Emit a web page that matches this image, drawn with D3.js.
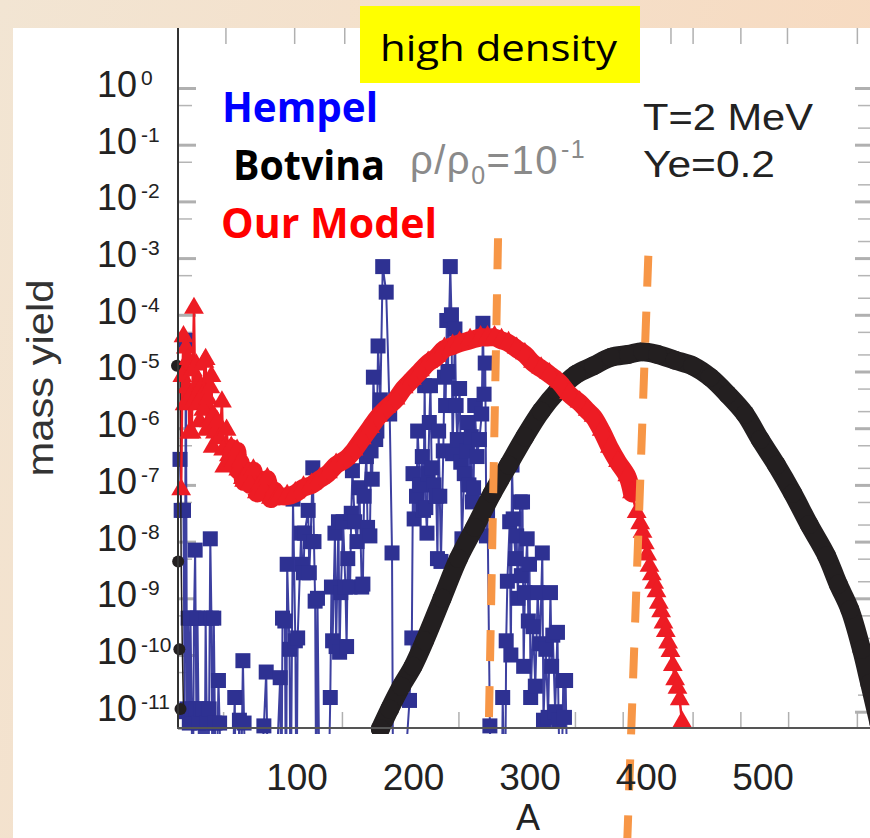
<!DOCTYPE html>
<html>
<head>
<meta charset="utf-8">
<script src="https://cdn.jsdelivr.net/npm/d3@7"></script>
<style>
  body { margin: 0; }
  svg { display: block; }
</style>
</head>
<body>
<svg></svg>
<script>
const width = 870;
const height = 838;

// Hempel (blue squares), values below the axis are drawn as lines into the floor
const hempelA = [0, 1, 3, 4, 5, 6, 7, 8, 9, 10, 11, 12, 13, 14, 15, 16, 17, 18, 19, 20,
  21, 22, 23, 24, 25, 26, 27, 28, 29, 30, 31, 33, 34, 36, 40, 44, 47, 48, 51, 52,
  54, 55, 57, 62, 67, 72, 74, 76, 81, 86, 87, 88, 90, 91, 92, 94, 95, 97, 99, 100,
  101, 104, 105, 106, 107, 110, 111, 112, 114, 115, 116, 117, 118, 120, 127, 129, 130, 131, 133, 134,
  136, 137, 138, 140, 142, 143, 144, 146, 147, 148, 150, 152, 154, 156, 157, 158, 160, 161, 163, 164,
  165, 166, 168, 169, 170, 172, 174, 177, 180, 182, 183, 190, 197, 199, 200, 201, 203, 204, 206, 208,
  209, 210, 211, 212, 213, 214, 215, 216, 218, 220, 221, 222, 223, 224, 226, 227, 228, 229, 230, 232,
  233, 234, 236, 237, 238, 240, 241, 242, 244, 246, 247, 248, 250, 251, 252, 253, 255, 257, 259, 260,
  261, 262, 263, 264, 266, 268, 276, 277, 279, 280, 281, 283, 284, 285, 286, 288, 289, 290, 292, 293,
  294, 295, 296, 298, 299, 300, 301, 303, 305, 307, 309, 311, 312, 314, 316, 318, 319, 320, 322, 324,
  325, 327, 329, 330, 331, 333];
const hempelYield = [2.82e-7, 3.55e-8, 3.55e-8, 1e-11, 3.55e-5, 1.12e-11, 4.47e-10, 6.31e-12, 4.47e-10, 1.12e-11, 1e-13, 4.47e-10, 7.08e-9, 1.12e-11, 4.47e-10, 6.31e-12, 1e-13, 1.12e-11, 1e-13, 1.12e-11,
  1e-13, 4.47e-10, 6.31e-12, 1e-13, 1.12e-11, 1.12e-8, 4.47e-10, 1e-13, 4.47e-10, 6.31e-12, 1e-13, 3.55e-11, 6.31e-12, 1e-13, 1e-13, 1e-13, 1.78e-11, 1e-13, 7.08e-12, 1e-13,
  7.94e-11, 6.31e-12, 1e-13, 1e-13, 1e-13, 5.62e-12, 5.01e-11, 1e-13, 1e-13, 3.98e-11, 1e-13, 4.47e-10, 3.98e-10, 1e-13, 3.98e-9, 1.26e-10, 1e-13, 5.62e-8, 1.78e-10, 1e-13,
  2e-10, 1.41e-8, 3.98e-9, 2.82e-9, 1.41e-8, 3.55e-8, 2.82e-9, 1e-8, 2e-7, 1e-8, 8.91e-10, 1e-13, 1e-9, 1e-13, 1e-13, 1.78e-11, 1.58e-9, 1.78e-10, 1.41e-8, 1.41e-10,
  2.24e-8, 1.12e-10, 1.26e-9, 2.24e-8, 1.58e-9, 1.41e-10, 5.01e-9, 1.58e-9, 3.16e-8, 1.78e-7, 2.24e-8, 1e-8, 8.91e-8, 1.58e-9, 1.78e-9, 6.31e-8, 3.16e-7, 1.78e-8, 1.26e-8, 3.98e-7,
  1.26e-7, 7.94e-6, 6.31e-7, 8.91e-7, 2.82e-5, 3.16e-6, 7.08e-4, 2.51e-4, 1.78e-6, 6.31e-9, 1e-13, 1e-13, 1.58e-11, 2e-10, 1.58e-7, 2.51e-8, 6.31e-8, 8.91e-7, 1e-7, 3.16e-7,
  3.55e-8, 5.62e-6, 3.98e-8, 1.41e-8, 1.58e-7, 1.26e-6, 5.62e-6, 2e-7, 1e-7, 6.31e-8, 5.01e-9, 8.91e-7, 6.31e-8, 4.47e-9, 3.98e-7, 7.94e-6, 2.51e-6, 7.94e-5, 1e-5, 7.08e-4,
  1e-4, 3.55e-7, 5.62e-5, 2.51e-6, 6.31e-7, 5.01e-6, 2.51e-7, 1.12e-8, 1.58e-7, 3.98e-7, 1.26e-6, 1e-7, 7.08e-7, 5.01e-8, 8.91e-8, 2.51e-6, 3.16e-7, 6.31e-7, 1.78e-6, 7.08e-5,
  3.98e-6, 1.41e-5, 1.26e-8, 3.16e-8, 5.62e-12, 1e-13, 1e-13, 1.78e-11, 1e-13, 1.78e-10, 2e-9, 2.24e-8, 1e-10, 2.24e-7, 2.51e-8, 5.01e-9, 1.26e-8, 1e-9, 5.01e-8, 2.51e-9,
  5.01e-8, 6.31e-11, 1.26e-9, 1.12e-8, 3.98e-10, 3.98e-9, 1.78e-11, 3.16e-10, 2.82e-11, 1.26e-9, 1.58e-10, 6.31e-9, 7.08e-12, 1.26e-10, 7.94e-12, 1.26e-9, 6.31e-11, 2.24e-10, 1e-11, 2.51e-10,
  7.08e-12, 1e-13, 3.55e-11, 7.94e-12, 3.55e-11, 1e-13];

// Botvina (black circles)
const botvinaA = [172, 180, 190, 200, 210, 225, 239, 253, 268, 282, 296, 310, 324, 340, 355, 370, 385,
  397, 410, 425, 440, 455, 470, 485, 498, 512, 526, 540, 555, 565, 575, 585, 592, 600];
const botvinaYield = [5.01e-12, 1.12e-11, 2.82e-11, 6.31e-11, 1.78e-10, 1e-9, 5.01e-9, 1.78e-8, 7.08e-8, 2.24e-7, 7.08e-7, 2e-6, 4.47e-6, 8.91e-6, 1.26e-5, 1.78e-5, 2e-5,
  2.24e-5, 2e-5, 1.58e-5, 1.26e-5, 7.94e-6, 3.98e-6, 1.78e-6, 6.31e-7, 2.24e-7, 7.08e-8, 2e-8, 5.62e-9, 1.78e-9, 6.31e-10, 1.26e-10, 3.16e-11, 6.31e-12];
const botvinaLightA = [0, 1, 2, 3];
const botvinaLightYield = [1.26e-5, 4.47e-9, 1.26e-10, 1.12e-11];

// Our Model (red triangles)
const modelA = [1, 2, 3, 4, 5, 6, 7, 8, 9, 10, 11, 12, 13, 14, 15, 16, 17, 18, 19, 20,
  21, 22, 23, 24, 25, 26, 27, 28, 29, 30, 32, 34, 36, 37, 38, 40, 42, 44, 46, 49,
  50, 52, 54, 55, 58, 60, 63, 66, 69, 72, 75, 78, 81, 84, 86, 92, 99, 106, 113, 120,
  127, 134, 142, 149, 156, 163, 170, 177, 185, 192, 199, 206, 213, 220, 227, 234, 240, 249, 258, 264,
  270, 276, 282, 289, 296, 303, 310, 317, 326, 334, 343, 350, 355, 362, 369, 376, 384, 388, 392, 395,
  397, 399, 401, 403, 405, 407, 409, 411, 413, 415, 417, 419, 421, 423, 425, 427, 429, 431];
const modelYield = [7.94e-8, 7.94e-6, 3.98e-5, 2.51e-6, 2.51e-5, 5.01e-6, 1.58e-5, 7.94e-7, 3.55e-6, 7.94e-7, 1e-5, 1.26e-4, 3.16e-6, 1.26e-5, 2.51e-6, 6.31e-6, 1.26e-6, 5.01e-6, 3.55e-6, 2e-6,
  1.41e-5, 1.58e-5, 8.91e-7, 3.16e-6, 1.26e-6, 5.01e-6, 7.94e-6, 4.47e-7, 1.58e-6, 7.94e-7, 1.26e-6, 6.31e-7, 2.82e-6, 3.98e-7, 2e-7, 8.91e-7, 3.16e-7, 4.47e-7, 2.51e-7, 3.98e-7,
  1.78e-7, 2.51e-7, 1.26e-7, 1.12e-7, 1.58e-7, 1e-7, 1.78e-7, 7.08e-8, 1e-7, 7.94e-8, 1.26e-7, 5.62e-8, 7.94e-8, 6.31e-8, 6.31e-8, 6.31e-8, 7.08e-8, 8.91e-8, 1e-7, 1.26e-7,
  1.58e-7, 2.24e-7, 2.82e-7, 3.98e-7, 6.31e-7, 1e-6, 1.58e-6, 2.24e-6, 3.16e-6, 5.01e-6, 7.08e-6, 1e-5, 1.41e-5, 1.78e-5, 2.51e-5, 2.82e-5, 3.16e-5, 3.55e-5, 3.98e-5, 3.98e-5,
  3.98e-5, 3.55e-5, 3.16e-5, 2.51e-5, 2e-5, 1.41e-5, 1.12e-5, 8.91e-6, 6.31e-6, 3.98e-6, 2.82e-6, 2e-6, 1.58e-6, 8.91e-7, 4.47e-7, 2.51e-7, 1.41e-7, 7.08e-8, 3.16e-8, 2e-8,
  1.41e-8, 8.91e-9, 5.62e-9, 3.55e-9, 2.51e-9, 1.78e-9, 1.26e-9, 7.94e-10, 5.62e-10, 3.55e-10, 2.51e-10, 1.58e-10, 1.12e-10, 6.31e-11, 3.55e-11, 2.51e-11, 1.58e-11, 6.31e-12];

// orange dashed guide lines: [top, bottom]
const guideA = [[273, 265], [402, 384]];
const guideYield = [[2.24e-3, 4.57e-12], [1.1e-3, 5.9e-14]];

// axes
const yMajor = [1, 1e-1, 1e-2, 1e-3, 1e-4, 1e-5, 1e-6, 1e-7, 1e-8, 1e-9, 1e-10, 1e-11];
const yExpLabels = ["0", "-1", "-2", "-3", "-4", "-5", "-6", "-7", "-8", "-9", "-10", "-11"];
const yMinorLeft = [5e-1, 5e-2, 5e-3, 5e-4, 5e-5, 5e-6, 5e-7, 5e-8, 5e-9, 5e-10, 5e-11, 5e-12];
const yMinorRight = [2e-1, 5e-1, 2e-2, 5e-2, 2e-3, 5e-3, 2e-4, 5e-4, 2e-5, 5e-5, 2e-6, 5e-6,
  2e-7, 5e-7, 2e-8, 5e-8, 2e-9, 5e-9, 2e-10, 5e-10, 2e-11, 5e-11];
const xLabels = [100, 200, 300, 400, 500];
const bottomTickA = [37, 139, 239, 339, 380, 440, 481, 522, 581];
const topTickA = [39, 98, 141, 421, 440, 481, 521, 581];

let svg = d3.select("svg")
    .attr("width", width)
    .attr("height", height);

// фон слайда
let defs = svg.append("defs");
let grad = defs.append("linearGradient").attr("id", "bg")
    .attr("x1", 0).attr("y1", 0).attr("x2", 1).attr("y2", 0.3);
grad.append("stop").attr("offset", "0%").attr("stop-color", "#f2e5d3");
grad.append("stop").attr("offset", "100%").attr("stop-color", "#f7dac0");
svg.append("rect").attr("width", width).attr("height", height).attr("fill", "url(#bg)");
svg.append("rect").attr("x", 13).attr("y", 28)
    .attr("width", width - 13).attr("height", height - 28)
    .attr("fill", "#ffffff");

defs.append("clipPath").attr("id", "plotClip")
    .append("rect").attr("x", 168).attr("y", 28).attr("width", 702).attr("height", 706);

const x = d3.scaleLinear().domain([0, 600]).range([180, 879]);
const y = d3.scaleLog().domain([5.16e-12, 11.43]).range([728, 28]);

// ticks
function styleTicks(g, color, w) {
    g.select(".domain").remove();
    g.selectAll("line").attr("stroke", color).attr("stroke-width", w);
    g.selectAll("text").remove();
}
svg.append("g").attr("transform", "translate(178,0)")
    .call(d3.axisRight(y).tickValues(yMinorLeft).tickSize(14))
    .call(g => styleTicks(g, "#b5b5b5", 1.5));
svg.append("g").attr("transform", "translate(178,0)")
    .call(d3.axisRight(y).tickValues(yMajor).tickSize(18))
    .call(g => styleTicks(g, "#b0b0b0", 3));
svg.append("g").attr("transform", "translate(870,0)")
    .call(d3.axisLeft(y).tickValues(yMinorRight).tickSize(12))
    .call(g => styleTicks(g, "#b5b5b5", 1.5));
svg.append("g").attr("transform", "translate(870,0)")
    .call(d3.axisLeft(y).tickValues(yMajor).tickSize(15))
    .call(g => styleTicks(g, "#b0b0b0", 3));
svg.append("g").attr("transform", "translate(0,728)")
    .call(d3.axisTop(x).tickValues(bottomTickA).tickSize(16))
    .call(g => styleTicks(g, "#b0b0b0", 1.5));
svg.append("g").attr("transform", "translate(0,28)")
    .call(d3.axisBottom(x).tickValues(topTickA).tickSize(16))
    .call(g => styleTicks(g, "#b0b0b0", 1.5));

// data
let plot = svg.append("g").attr("clip-path", "url(#plotClip)");
const line = d3.line().x(d => x(d.a)).y(d => y(d.v));
const smooth = d3.line().x(d => x(d.a)).y(d => y(d.v)).curve(d3.curveCatmullRom);

const hempel = hempelA.map((a, i) => ({a: a, v: hempelYield[i]}));
plot.append("path").datum(hempel)
    .attr("d", line)
    .attr("fill", "none")
    .attr("stroke", "#3d40a0")
    .attr("stroke-width", 2);
plot.selectAll("rect.hempel")
    .data(hempel.filter(d => d.v > 1e-12))
    .join("rect")
    .attr("class", "hempel")
    .attr("x", d => x(d.a) - 7.5)
    .attr("y", d => y(d.v) - 7.5)
    .attr("width", 15)
    .attr("height", 15)
    .attr("fill", "#2e3192");

const botvina = botvinaA.map((a, i) => ({a: a, v: botvinaYield[i]}));
const botvinaLight = botvinaLightA.map((a, i) => ({a: a, v: botvinaLightYield[i]}));
plot.append("path").datum(botvina)
    .attr("d", smooth)
    .attr("fill", "none")
    .attr("stroke", "#231f20")
    .attr("stroke-width", 19)
    .attr("stroke-linecap", "round");
plot.selectAll("circle.botvina")
    .data(botvina)
    .join("circle")
    .attr("class", "botvina")
    .attr("cx", d => x(d.a))
    .attr("cy", d => y(d.v))
    .attr("r", 9.5)
    .attr("fill", "#231f20");
plot.append("path").datum(botvinaLight)
    .attr("d", line)
    .attr("fill", "none")
    .attr("stroke", "#231f20")
    .attr("stroke-width", 1.5);
plot.selectAll("circle.light")
    .data(botvinaLight)
    .join("circle")
    .attr("class", "light")
    .attr("cx", d => x(d.a) - 3)
    .attr("cy", d => y(d.v))
    .attr("r", 6)
    .attr("fill", "#231f20");

const model = modelA.map((a, i) => ({a: a, v: modelYield[i]}));
plot.append("path").datum(model)
    .attr("d", line)
    .attr("fill", "none")
    .attr("stroke", "#ed1c24")
    .attr("stroke-width", 2.5);
plot.append("path").datum(model.filter(d => d.a >= 44 && d.a <= 390))
    .attr("d", smooth)
    .attr("fill", "none")
    .attr("stroke", "#ed1c24")
    .attr("stroke-width", 18)
    .attr("stroke-linecap", "round");
plot.selectAll("path.model")
    .data(model)
    .join("path")
    .attr("class", "model")
    .attr("transform", d => `translate(${x(d.a)},${y(d.v) - 1})`)
    .attr("d", d3.symbol(d3.symbolTriangle).size(170))
    .attr("fill", "#ed1c24");

// orange dashed lines
guideA.forEach((g, i) => {
    svg.append("line")
        .attr("x1", x(g[0])).attr("y1", y(guideYield[i][0]))
        .attr("x2", x(g[1])).attr("y2", y(guideYield[i][1]))
        .attr("stroke", "#f79646")
        .attr("stroke-width", 8)
        .attr("stroke-dasharray", "31,25");
});

// axis lines
svg.append("line").attr("x1", 178).attr("x2", 178).attr("y1", 28).attr("y2", 729)
    .attr("stroke", "#333").attr("stroke-width", 2);
svg.append("line").attr("x1", 177).attr("x2", 870).attr("y1", 728).attr("y2", 728)
    .attr("stroke", "#555").attr("stroke-width", 2);

// tick labels
const font = "'Liberation Sans', Arial, sans-serif";
yMajor.forEach((v, i) => {
    let t = svg.append("text")
        .attr("x", 97)
        .attr("y", y(v) + 9)
        .attr("font-family", font)
        .attr("font-size", 36)
        .attr("fill", "#222");
    t.append("tspan").text("10");
    t.append("tspan").attr("dx", 4).attr("dy", -12).attr("font-size", 21).text(yExpLabels[i]);
});

svg.append("g").attr("transform", "translate(0,728)")
    .call(d3.axisBottom(x).tickValues(xLabels).tickSize(0).tickPadding(36))
    .call(g => g.select(".domain").remove())
    .call(g => g.selectAll("text")
        .attr("font-family", font)
        .attr("font-size", 37)
        .attr("fill", "#222"));

svg.append("text")
    .attr("x", 528).attr("y", 830)
    .attr("text-anchor", "middle")
    .attr("font-family", font)
    .attr("font-size", 36)
    .attr("fill", "#222")
    .text("A");

svg.append("text")
    .attr("transform", "translate(53,378) rotate(-90)")
    .attr("text-anchor", "middle")
    .attr("font-family", font)
    .attr("font-size", 36)
    .attr("fill", "#333")
    .attr("textLength", 197)
    .attr("lengthAdjust", "spacingAndGlyphs")
    .text("mass yield");

// title box
svg.append("rect").attr("x", 360).attr("y", 6).attr("width", 280).attr("height", 77)
    .attr("fill", "#ffff00");
svg.append("text")
    .attr("x", 380).attr("y", 61)
    .attr("font-family", "'Open Sans', 'Noto Sans', sans-serif")
    .attr("font-size", 37)
    .attr("fill", "#000")
    .attr("textLength", 237)
    .attr("lengthAdjust", "spacingAndGlyphs")
    .text("high density");

// legend labels
const legendFont = "'Open Sans', 'Noto Sans', sans-serif";
[["Hempel", "#0000ff", 222, 122, 156], ["Botvina", "#000000", 233, 180, 152], ["Our Model", "#ff0000", 221, 238, 216]]
    .forEach(d => {
        svg.append("text")
            .attr("x", d[2]).attr("y", d[3])
            .attr("font-family", legendFont)
            .attr("font-weight", 700)
            .attr("font-size", 41)
            .attr("fill", d[1])
            .attr("textLength", d[4])
            .attr("lengthAdjust", "spacingAndGlyphs")
            .text(d[0]);
    });

// rho / rho0 = 10^-1
let rho = svg.append("text")
    .attr("x", 410).attr("y", 174)
    .attr("font-family", font)
    .attr("font-size", 40)
    .attr("letter-spacing", 1.5)
    .attr("fill", "#8a8a8a");
rho.append("tspan").text("ρ/ρ");
rho.append("tspan").attr("dy", 10).attr("font-size", 25).text("0");
rho.append("tspan").attr("dy", -10).text("=10");
rho.append("tspan").attr("dy", -16).attr("dx", 2).attr("font-size", 25).text("-1");

svg.append("text")
    .attr("x", 643).attr("y", 130)
    .attr("font-family", font)
    .attr("font-size", 36)
    .attr("fill", "#222")
    .attr("textLength", 170)
    .attr("lengthAdjust", "spacingAndGlyphs")
    .text("T=2 MeV");
svg.append("text")
    .attr("x", 643).attr("y", 177)
    .attr("font-family", font)
    .attr("font-size", 36)
    .attr("fill", "#222")
    .attr("textLength", 132)
    .attr("lengthAdjust", "spacingAndGlyphs")
    .text("Ye=0.2");
</script>
</body>
</html>
